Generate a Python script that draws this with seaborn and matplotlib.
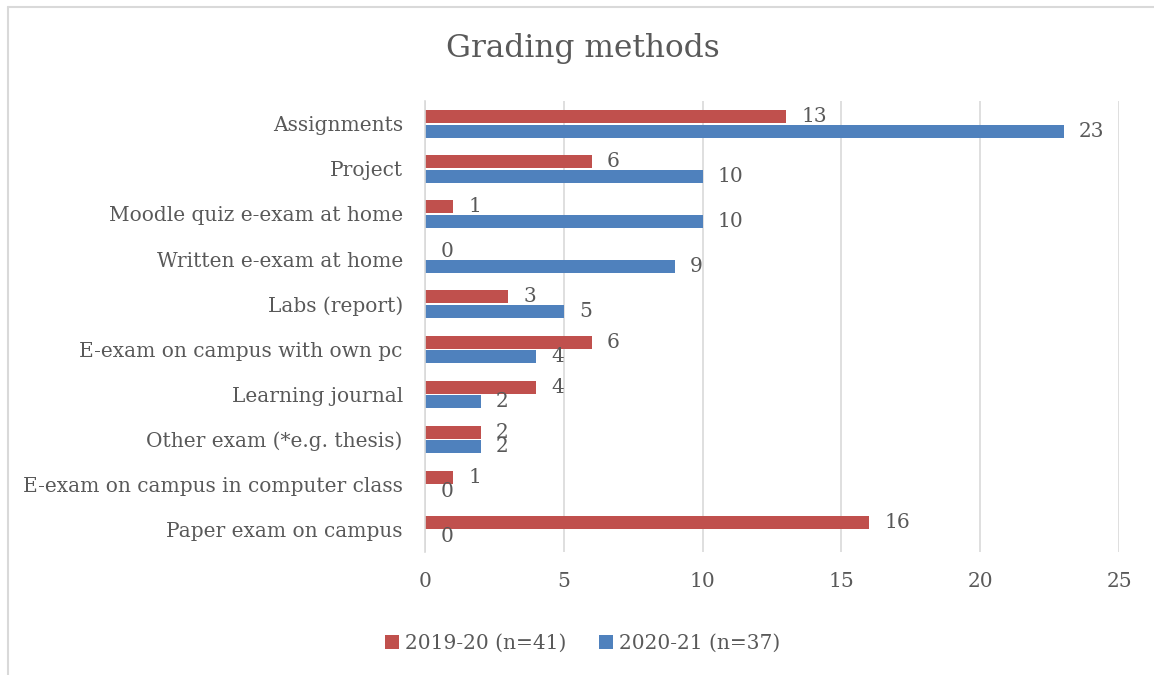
import pandas as pd
import matplotlib.pyplot as plt
import seaborn as sns
from matplotlib.lines import Line2D

# chart values
methods = ['Assignments', 'Project', 'Moodle quiz e-exam at home', 'Written e-exam at home',
           'Labs (report)', 'E-exam on campus with own pc', 'Learning journal',
           'Other exam (*e.g. thesis)', 'E-exam on campus in computer class', 'Paper exam on campus']
y2019 = [13, 6, 1, 0, 3, 6, 4, 2, 1, 16]
y2020 = [23, 10, 10, 9, 5, 4, 2, 2, 0, 0]
series = ['2019-20 (n=41)', '2020-21 (n=37)']
colors = ['#C0504D', '#4F81BD']

df = pd.DataFrame({
    'method': methods * 2,
    'count': y2019 + y2020,
    'year': [series[0]] * len(methods) + [series[1]] * len(methods),
})

sns.set_style('white')
plt.rcParams['font.family'] = ['DejaVu Serif']
txt = '#595959'
fs = 14.5

fig = plt.figure(figsize=(11.54, 6.75), dpi=100)
ax = fig.add_axes([0.3683, 0.182, 0.6014, 0.668])

sns.barplot(data=df, y='method', x='count', hue='year', orient='h',
            palette=colors, width=0.64, gap=0.1, ax=ax, saturation=1, linewidth=0)

for c in ax.containers:
    ax.bar_label(c, padding=11, fontsize=fs, color=txt)

ax.set_xlim(0, 25)
ax.set_xticks(range(0, 26, 5))
ax.grid(axis='x', color='#D9D9D9', linewidth=1.2)
ax.set_axisbelow(True)
for s in ['top', 'right', 'bottom']:
    ax.spines[s].set_visible(False)
ax.spines['left'].set_color('#D9D9D9')
ax.spines['left'].set_linewidth(1.2)
ax.tick_params(axis='both', length=0, labelsize=fs, labelcolor=txt)
ax.tick_params(axis='y', pad=16)
ax.tick_params(axis='x', pad=14)
ax.set_xlabel('')
ax.set_ylabel('')

fig.text(0.505, 0.928, 'Grading methods', ha='center', va='center', fontsize=22.5, color=txt)

handles, labels = ax.get_legend_handles_labels()
ax.legend_.remove()
fig.legend(handles, labels, loc='center', bbox_to_anchor=(0.505, 0.047), ncol=2,
           frameon=False, fontsize=fs, labelcolor=txt, handlelength=0.7, handleheight=0.7,
           handletextpad=0.3, columnspacing=1.6)

# chart frame (only top and left edges are visible in the crop)
fig.add_artist(Line2D([7.5 / 1154, 1.0], [1 - 6.5 / 675] * 2, color='#D9D9D9', lw=1.5,
                      transform=fig.transFigure))
fig.add_artist(Line2D([7.5 / 1154] * 2, [0.0, 1 - 6.5 / 675], color='#D9D9D9', lw=1.5,
                      transform=fig.transFigure))

fig.savefig('out.png', dpi=100)
